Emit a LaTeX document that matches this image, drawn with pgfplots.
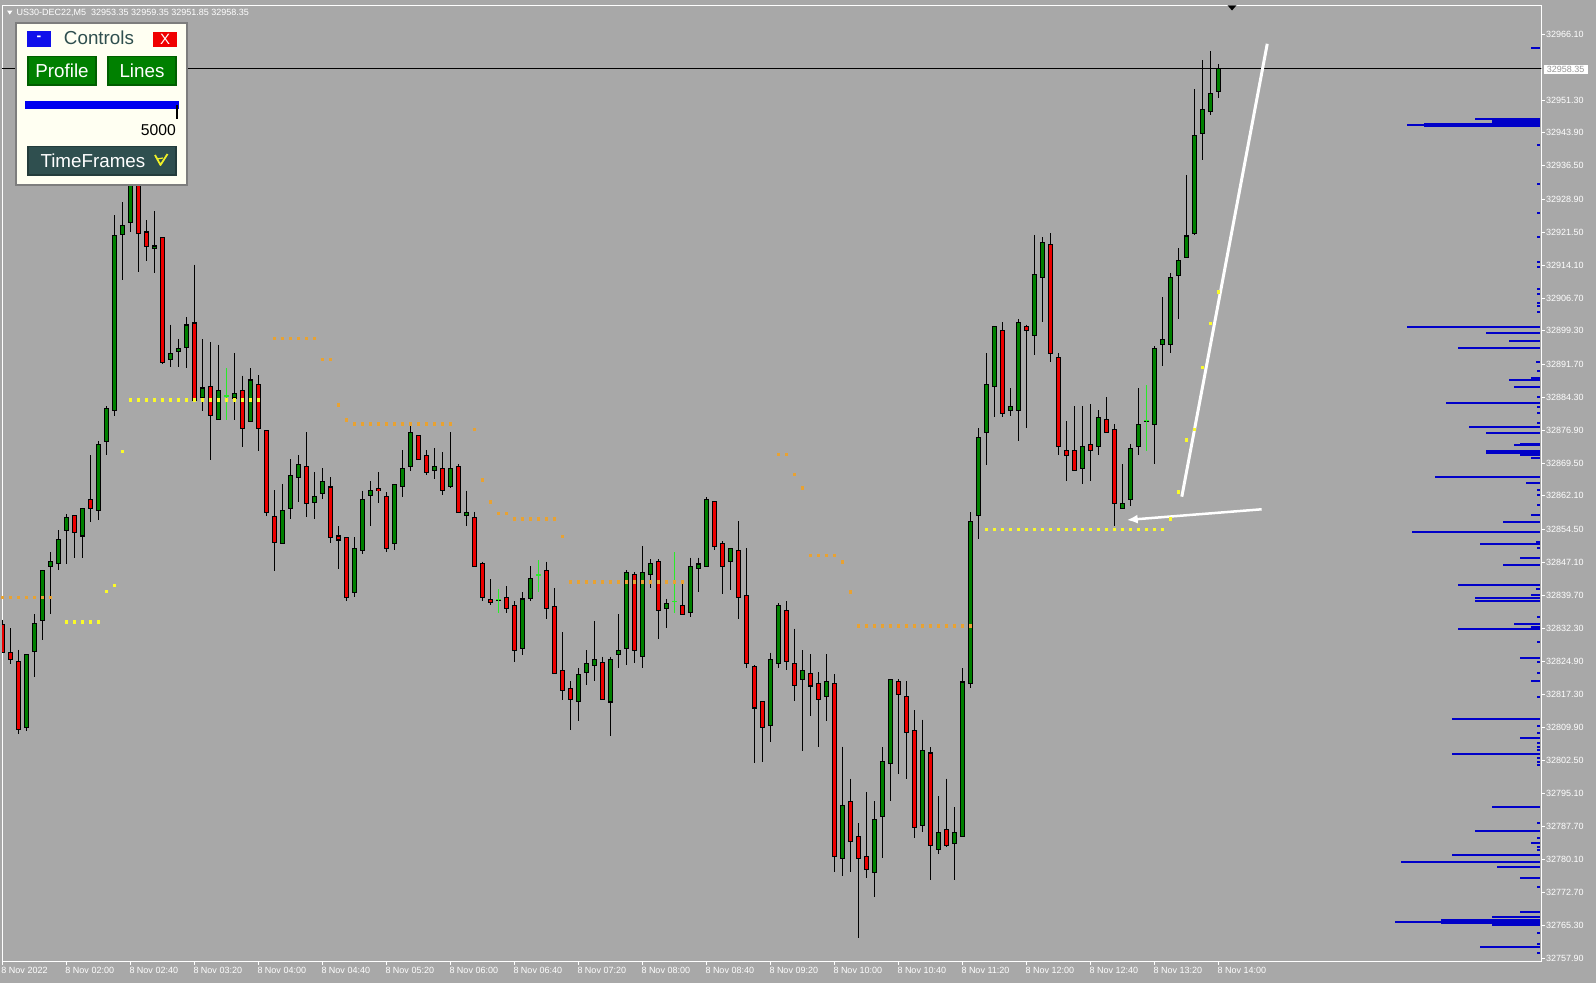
\documentclass[border=0pt]{standalone}
\usepackage{pgfplots}
\pgfplotsset{compat=1.18}
\usepackage{pgfplotstable}
\usepackage{fontspec}
\setmainfont{Liberation Sans}
\usetikzlibrary{arrows.meta}
\definecolor{bgc}{RGB}{168,168,168}
\definecolor{bull}{RGB}{0,128,0}
\definecolor{bear}{RGB}{236,0,0}
\definecolor{doji}{RGB}{40,235,40}
\definecolor{profc}{RGB}{0,0,200}
\definecolor{ylw}{RGB}{250,250,40}
\definecolor{orng}{RGB}{232,162,50}
\definecolor{slate}{RGB}{47,79,79}
\definecolor{ivory}{RGB}{255,255,242}
\definecolor{boxtext}{RGB}{150,150,150}
\definecolor{panelborder}{RGB}{125,125,125}
\definecolor{btnblue}{RGB}{16,16,235}
\definecolor{btnred}{RGB}{240,0,0}
\definecolor{btnborder}{RGB}{0,95,0}
\definecolor{barblue}{RGB}{0,0,240}
\definecolor{tfborder}{RGB}{35,60,60}
\definecolor{chk}{RGB}{240,240,40}
\newcommand\tickfont{\fontsize{9bp}{10bp}\selectfont}
\pgfplotstableread{
k o h l c
0 32833.3 32834.2 32826.6 32827.0
1 32826.8 32832.3 32824.3 32825.2
2 32824.8 32827.4 32808.4 32809.4
3 32810.0 32826.4 32809.2 32826.4
4 32827.2 32835.4 32821.3 32833.4
5 32834.2 32845.4 32829.7 32845.4
6 32846.2 32849.5 32835.4 32847.4
7 32846.9 32854.4 32845.3 32852.3
8 32854.3 32857.9 32846.8 32857.3
9 32857.7 32857.7 32848.2 32853.8
10 32853.2 32859.3 32848.2 32859.3
11 32861.3 32871.2 32856.3 32859.3
12 32858.8 32874.5 32856.7 32873.8
13 32874.4 32882.3 32871.2 32881.8
14 32881.3 32925.3 32880.2 32920.8
15 32921.2 32928.3 32910.8 32923.2
16 32923.6 32937.0 32921.6 32934.0
17 32934.0 32937.0 32912.6 32921.2
18 32921.6 32924.2 32915.0 32918.3
19 32917.8 32926.3 32912.2 32918.4
20 32920.4 32920.4 32891.8 32892.1
21 32892.8 32900.7 32891.2 32894.3
22 32894.8 32897.4 32891.2 32895.4
23 32895.7 32902.3 32890.8 32900.7
24 32901.2 32914.2 32883.7 32883.7
25 32884.2 32897.4 32881.3 32886.4
26 32886.8 32896.7 32870.2 32880.2
27 32879.3 32896.2 32879.3 32885.9
28 32884.7 32890.8 32879.2 32884.7
29 32884.2 32894.3 32879.2 32885.3
30 32885.9 32889.2 32873.2 32877.3
31 32878.9 32890.8 32878.9 32888.3
32 32887.2 32889.3 32872.3 32877.3
33 32876.9 32876.9 32857.6 32858.3
34 32857.7 32863.4 32845.2 32851.8
35 32851.4 32864.8 32851.4 32858.8
36 32859.2 32870.3 32856.8 32866.7
37 32866.3 32871.3 32860.8 32869.2
38 32868.8 32876.4 32857.3 32860.4
39 32860.8 32867.4 32856.8 32862.1
40 32862.8 32868.3 32861.3 32865.4
41 32864.2 32866.3 32851.4 32852.8
42 32853.2 32855.3 32845.7 32852.3
43 32852.8 32852.8 32838.3 32839.2
44 32840.4 32852.8 32839.2 32850.3
45 32849.8 32863.3 32848.9 32861.3
46 32862.2 32865.4 32855.2 32863.3
47 32863.8 32867.4 32860.4 32863.3
48 32862.2 32862.9 32849.4 32850.3
49 32851.4 32864.7 32849.8 32864.7
50 32864.2 32872.4 32861.8 32868.3
51 32868.8 32878.0 32867.8 32876.4
52 32875.7 32875.7 32870.3 32870.3
53 32871.2 32872.4 32866.7 32867.4
54 32867.9 32872.8 32865.8 32868.8
55 32868.3 32871.9 32862.2 32863.3
56 32864.2 32876.4 32863.8 32868.3
57 32868.8 32869.2 32858.4 32858.4
58 32857.7 32863.3 32855.2 32858.4
59 32857.3 32858.5 32846.2 32846.2
60 32846.9 32847.3 32838.3 32839.2
61 32838.8 32843.3 32837.4 32838.3
62 32838.8 32841.0 32835.6 32838.8
63 32839.2 32841.7 32835.8 32836.8
64 32837.4 32838.3 32824.7 32827.3
65 32827.7 32840.4 32826.3 32838.8
66 32839.2 32846.2 32838.3 32843.7
67 32844.3 32847.6 32840.4 32844.3
68 32845.3 32847.3 32834.3 32836.8
69 32837.4 32841.3 32822.3 32822.3
70 32822.8 32831.4 32816.2 32818.3
71 32818.7 32820.3 32809.3 32816.3
72 32815.8 32823.2 32811.3 32821.9
73 32822.3 32827.3 32819.4 32824.4
74 32823.9 32833.9 32820.3 32825.3
75 32824.8 32825.9 32816.3 32816.3
76 32815.8 32825.9 32807.9 32825.3
77 32826.4 32835.4 32823.2 32827.3
78 32827.7 32845.3 32823.9 32844.9
79 32844.4 32844.9 32824.4 32827.3
80 32825.9 32850.7 32823.2 32844.9
81 32844.4 32847.8 32841.3 32846.9
82 32847.3 32847.8 32829.8 32836.3
83 32836.8 32838.9 32832.3 32837.9
84 32838.3 32849.4 32835.6 32838.3
85 32837.4 32842.4 32835.4 32835.4
86 32835.9 32848.2 32834.7 32846.2
87 32845.8 32848.2 32840.4 32846.9
88 32846.2 32861.8 32846.2 32861.3
89 32860.9 32860.9 32849.8 32850.7
90 32851.4 32851.9 32839.9 32846.2
91 32847.3 32850.3 32840.8 32850.3
92 32849.8 32856.4 32834.3 32839.2
93 32839.9 32850.3 32823.2 32824.4
94 32823.9 32823.9 32802.0 32814.5
95 32815.8 32815.8 32802.2 32809.9
96 32810.4 32826.8 32806.7 32825.3
97 32824.4 32837.9 32823.2 32837.4
98 32836.3 32838.3 32822.8 32824.8
99 32824.4 32832.2 32815.8 32819.4
100 32820.8 32827.3 32804.7 32822.8
101 32822.3 32826.4 32812.4 32819.4
102 32819.9 32822.3 32805.4 32816.3
103 32816.9 32826.4 32811.3 32820.3
104 32819.9 32821.9 32777.3 32780.9
105 32780.4 32805.6 32776.4 32792.4
106 32793.3 32798.4 32777.3 32784.3
107 32785.4 32788.3 32762.4 32780.4
108 32780.9 32795.4 32775.9 32777.9
109 32777.3 32793.3 32771.8 32789.4
110 32789.9 32805.4 32780.4 32802.3
111 32801.8 32820.8 32793.3 32820.8
112 32820.3 32820.8 32799.4 32817.4
113 32816.9 32820.3 32798.4 32808.8
114 32809.3 32813.8 32784.9 32787.4
115 32787.9 32811.7 32786.3 32804.8
116 32804.3 32805.4 32775.5 32783.4
117 32782.5 32794.4 32781.3 32786.3
118 32787.0 32798.4 32782.9 32783.4
119 32783.8 32791.9 32775.5 32786.3
120 32785.4 32823.2 32785.4 32820.3
121 32819.9 32858.4 32818.7 32856.4
122 32857.7 32877.3 32852.3 32875.3
123 32876.4 32894.2 32869.1 32887.2
124 32886.8 32900.3 32879.8 32900.3
125 32899.4 32901.2 32879.8 32880.7
126 32881.4 32886.3 32880.2 32882.3
127 32881.4 32901.9 32874.4 32901.2
128 32900.3 32900.7 32877.3 32899.4
129 32898.3 32920.9 32893.8 32912.2
130 32911.3 32920.4 32901.2 32919.2
131 32918.8 32921.3 32892.2 32894.2
132 32893.3 32894.2 32871.2 32873.3
133 32872.4 32878.9 32865.4 32871.2
134 32872.4 32882.3 32867.9 32867.9
135 32868.3 32882.3 32864.7 32873.3
136 32873.7 32882.7 32865.4 32872.4
137 32873.3 32881.4 32871.2 32879.8
138 32879.3 32884.3 32876.4 32876.4
139 32876.9 32878.2 32855.2 32860.4
140 32859.3 32869.2 32859.3 32860.4
141 32861.3 32873.7 32859.7 32872.8
142 32873.3 32886.3 32871.2 32878.2
143 32879.1 32887.0 32872.1 32879.1
144 32878.2 32895.8 32869.2 32895.3
145 32896.2 32906.8 32891.3 32897.4
146 32896.2 32912.2 32894.2 32911.3
147 32911.8 32917.9 32901.9 32915.2
148 32915.9 32934.4 32915.9 32920.8
149 32921.3 32953.7 32920.8 32943.3
150 32943.8 32960.3 32937.7 32949.2
151 32948.7 32962.3 32947.8 32952.8
152 32953.35 32959.35 32951.85 32958.35
}\candles
\pgfplotstableread{
k p
8 32833.8
9 32833.8
10 32833.8
11 32833.8
12 32833.8
13 32840.6
14 32842.0
15 32872.2
16 32883.7
17 32883.7
18 32883.7
19 32883.7
20 32883.7
21 32883.7
22 32883.7
23 32883.7
24 32883.7
25 32883.7
26 32883.7
27 32883.7
28 32883.7
29 32883.7
30 32883.7
31 32883.7
32 32883.7
123 32854.55
124 32854.55
125 32854.55
126 32854.55
127 32854.55
128 32854.55
129 32854.55
130 32854.55
131 32854.55
132 32854.55
133 32854.55
134 32854.55
135 32854.55
136 32854.55
137 32854.55
138 32854.55
139 32854.55
140 32854.55
141 32854.55
142 32854.55
143 32854.55
144 32854.55
145 32854.55
146 32857.0
147 32863.1
148 32874.7
149 32877.1
150 32891.1
151 32901.0
152 32908.1
}\yellowtab
\pgfplotstableread{
k p
0 32839.3
1 32839.3
2 32839.3
3 32839.3
4 32839.3
5 32839.3
6 32839.3
34 32897.6
35 32897.6
36 32897.6
37 32897.6
38 32897.6
39 32897.6
40 32892.9
41 32892.9
42 32882.7
43 32879.3
44 32878.4
45 32878.4
46 32878.4
47 32878.4
48 32878.4
49 32878.4
50 32878.4
51 32878.4
52 32878.4
53 32878.4
54 32878.4
55 32878.4
56 32878.4
59 32877.1
60 32865.7
61 32860.8
62 32858.2
63 32858.2
64 32857.0
65 32857.0
66 32857.0
67 32857.0
68 32857.0
69 32857.0
70 32853.0
71 32842.8
72 32842.8
73 32842.8
74 32842.8
75 32842.8
76 32842.8
77 32842.8
78 32842.8
79 32842.8
80 32842.8
81 32842.8
82 32842.8
83 32842.8
84 32842.8
85 32842.8
97 32871.5
98 32871.5
99 32867.0
100 32864.0
101 32848.7
102 32848.7
103 32848.7
104 32848.7
105 32847.3
106 32840.5
107 32832.9
108 32832.9
109 32832.9
110 32832.9
111 32832.9
112 32832.9
113 32832.9
114 32832.9
115 32832.9
116 32832.9
117 32832.9
118 32832.9
119 32832.9
120 32832.9
121 32832.9
}\orangetab
\pgfplotstableread{
p len
32963.08 1.1
32947.08 8.1
32946.56 6.0
32946.27 6.0
32945.96 14.5
32945.66 16.6
32945.37 14.5
32941.16 0.4
32932.44 0.4
32925.90 0.4
32920.49 0.4
32914.79 0.4
32913.67 0.4
32908.71 0.4
32907.58 0.4
32905.55 0.4
32904.88 0.4
32903.53 0.4
32900.21 16.6
32898.73 6.75
32897.06 3.9
32895.48 10.25
32892.33 0.5
32890.30 0.4
32888.54 1.1
32888.20 3.9
32886.56 3.25
32884.37 0.4
32883.09 11.75
32882.12 0.4
32880.84 0.4
32878.58 0.4
32877.68 8.9
32876.33 6.75
32873.78 2.5
32873.56 3.25
32872.27 6.75
32871.98 2.5
32871.69 6.75
32871.31 2.5
32870.70 1.1
32866.42 13.1
32864.93 1.75
32863.42 0.4
32862.36 0.4
32860.04 0.4
32857.79 1.1
32856.28 4.6
32854.02 16.0
32851.77 0.5
32851.32 7.5
32850.35 0.4
32848.16 2.5
32846.45 4.6
32842.01 10.25
32841.11 0.5
32839.76 1.1
32839.15 8.1
32838.41 8.1
32834.87 0.4
32833.16 3.25
32832.62 1.1
32832.10 10.25
32829.24 0.4
32825.63 2.5
32824.59 0.4
32822.25 0.4
32820.45 1.1
32816.84 0.4
32811.75 11.0
32810.24 0.4
32808.66 0.4
32807.47 2.5
32806.41 0.4
32805.51 0.4
32804.83 0.4
32803.93 11.0
32803.03 0.4
32802.13 0.4
32801.45 0.4
32792.06 6.0
32788.38 0.4
32786.65 8.1
32785.00 0.4
32783.95 1.1
32783.05 0.4
32782.30 0.4
32781.24 11.0
32779.66 17.4
32778.54 5.4
32776.06 2.5
32774.03 0.4
32768.40 2.5
32767.14 6.0
32766.64 12.4
32766.15 18.1
32765.74 12.4
32765.40 6.0
32763.53 0.4
32761.05 0.4
32760.37 7.5
32759.02 0.4
}\profile
\begin{document}
\begin{tikzpicture}
\path[use as bounding box, fill=bgc] (0,0) rectangle (1596bp,-983bp);
\begin{axis}[
  at={(2bp,-961.7bp)}, anchor=south west,
  scale only axis, width=1539.3bp, height=956.4bp,
  xmin=-0.0375, xmax=192.375, ymin=32757.13, ymax=32972.63,
  scaled x ticks=false, scaled y ticks=false,
  axis line style={white, line width=1bp},
  tick align=outside, major tick length=3.5bp,
  tick style={white, line width=0.8bp},
  xtick pos=left, ytick pos=right, yticklabel pos=right,
  xtick={0,8,...,152},
  xticklabels={{8 Nov 2022},{8 Nov 02:00},{8 Nov 02:40},{8 Nov 03:20},{8 Nov 04:00},{8 Nov 04:40},{8 Nov 05:20},{8 Nov 06:00},{8 Nov 06:40},{8 Nov 07:20},{8 Nov 08:00},{8 Nov 08:40},{8 Nov 09:20},{8 Nov 10:00},{8 Nov 10:40},{8 Nov 11:20},{8 Nov 12:00},{8 Nov 12:40},{8 Nov 13:20},{8 Nov 14:00}},
  ytick={32966.10,32951.30,32943.90,32936.50,32928.90,32921.50,32914.10,32906.70,32899.30,32891.70,32884.30,32876.90,32869.50,32862.10,32854.50,32847.10,32839.70,32832.30,32824.90,32817.30,32809.90,32802.50,32795.10,32787.70,32780.10,32772.70,32765.30,32757.90},
  yticklabels={32966.10,32951.30,32943.90,32936.50,32928.90,32921.50,32914.10,32906.70,32899.30,32891.70,32884.30,32876.90,32869.50,32862.10,32854.50,32847.10,32839.70,32832.30,32824.90,32817.30,32809.90,32802.50,32795.10,32787.70,32780.10,32772.70,32765.30,32757.90},
  xticklabel style={anchor=north west, inner sep=0pt, text=white, font=\tickfont, xshift=-1bp, yshift=-2bp},
  yticklabel style={anchor=west, inner sep=0pt, text=white, font=\tickfont, xshift=1bp},
]
% volume profile
\addplot[draw=none, mark=none, error bars/.cd, x dir=minus, x explicit, error mark=none,
  error bar style={draw=profc, line width=2bp}]
  table[x expr=192.21, y=p, x error=len] {\profile};
% indicator dots
\addplot[only marks, mark=square*, mark size=1.3bp, color=orng] table[x=k, y=p] {\orangetab};
\addplot[only marks, mark=square*, mark size=1.3bp, color=ylw] table[x=k, y=p] {\yellowtab};
% wicks
\addplot[draw=none, mark=none, error bars/.cd, y dir=minus, y explicit, error mark=none,
  error bar style={draw=black, line width=1bp}]
  table[x=k, y=h, y error expr={\thisrow{h}-\thisrow{l}}] {\candles};
% body outlines
\addplot[draw=none, mark=none, error bars/.cd, y dir=both, y explicit, error mark=none,
  error bar style={draw=black, line width=5bp}]
  table[x=k, y expr={(\thisrow{o}+\thisrow{c})/2}, y error expr={abs(\thisrow{c}-\thisrow{o})/2+0.12}] {\candles};
% bull fill
\addplot[draw=none, mark=none, error bars/.cd, y dir=both, y explicit, error mark=none,
  error bar style={draw=bull, line width=3bp}]
  table[x=k, y expr={(\thisrow{o}+\thisrow{c})/2}, y error expr={(\thisrow{c}>\thisrow{o})*max(abs(\thisrow{c}-\thisrow{o})/2-0.12,0)}] {\candles};
% bear fill
\addplot[draw=none, mark=none, error bars/.cd, y dir=both, y explicit, error mark=none,
  error bar style={draw=bear, line width=3bp}]
  table[x=k, y expr={(\thisrow{o}+\thisrow{c})/2}, y error expr={(\thisrow{c}<\thisrow{o})*max(abs(\thisrow{c}-\thisrow{o})/2-0.12,0)}] {\candles};
% doji (open = close): lime wick and tick
\addplot[draw=none, mark=none, error bars/.cd, y dir=minus, y explicit, error mark=none,
  error bar style={draw=doji, line width=1bp}]
  table[x=k, y=h, y error expr={(abs(\thisrow{c}-\thisrow{o})<0.01)*(\thisrow{h}-\thisrow{l})}] {\candles};
\addplot[draw=none, mark=none, error bars/.cd, y dir=both, y explicit, error mark=none,
  error bar style={draw=doji, line width=5.2bp}]
  table[x=k, y=o, y error expr={(abs(\thisrow{c}-\thisrow{o})<0.01)*0.14}] {\candles};
% current price line
\addplot[black, line width=0.8bp, mark=none] coordinates {(-1,32958.35) (193,32958.35)};
% user drawn lines
\addplot[white, line width=3bp, mark=none] coordinates {(147.44,32861.91) (158.12,32963.96)};
\addplot[white, line width=2.5bp, mark=none, -{Latex[length=11bp, width=9bp]}] coordinates {(157.42,32859.07) (140.55,32856.66)};
\end{axis}
% current price box
\node[fill=white, inner sep=0pt, minimum width=44bp, minimum height=8.6bp, text=boxtext, font=\tickfont, anchor=west] at (1543.3bp,-69.7bp) {32958.35};
% title
\fill[white] (7bp,-10.5bp) -- (12.5bp,-10.5bp) -- (9.75bp,-14.5bp) -- cycle;
\node[anchor=west, inner sep=0pt, text=white, font=\tickfont] at (16.5bp,-13.3bp) {US30-DEC22,M5\ \ 32953.35 32959.35 32951.85 32958.35};
% shift marker
\fill[black] (1227.5bp,-5.3bp) -- (1236.5bp,-5.3bp) -- (1232bp,-10.5bp) -- cycle;
% control panel
\draw[fill=ivory, draw=panelborder, line width=2bp] (16bp,-23.3bp) rectangle (187.3bp,-184.7bp);
\fill[btnblue] (27.3bp,-31bp) rectangle (50.7bp,-46.7bp);
\node[text=white, font=\fontsize{14bp}{14bp}\selectfont\bfseries] at (39bp,-38.5bp) {-};
\node[text=slate, font=\fontsize{18.8bp}{20bp}\selectfont] at (99bp,-37.5bp) {Controls};
\fill[btnred] (153.3bp,-31.7bp) rectangle (176.7bp,-46.7bp);
\node[text=white, font=\fontsize{15bp}{15bp}\selectfont] at (165bp,-39.2bp) {X};
\draw[fill=bull, draw=btnborder, line width=1.5bp] (28bp,-56.7bp) rectangle (96bp,-85bp);
\node[text=white, font=\fontsize{18.8bp}{20bp}\selectfont] at (62bp,-71bp) {Profile};
\draw[fill=bull, draw=btnborder, line width=1.5bp] (108bp,-56.7bp) rectangle (176bp,-85bp);
\node[text=white, font=\fontsize{18.8bp}{20bp}\selectfont] at (142bp,-71bp) {Lines};
\fill[barblue] (25bp,-101bp) rectangle (179bp,-109bp);
\fill[black] (176bp,-105bp) rectangle (178.3bp,-119bp);
\node[anchor=east, text=black, font=\fontsize{15.7bp}{16bp}\selectfont] at (179.3bp,-130bp) {5000};
\draw[fill=slate, draw=tfborder, line width=1.5bp] (28bp,-146.7bp) rectangle (176bp,-175bp);
\node[anchor=west, text=white, font=\fontsize{18.8bp}{20bp}\selectfont] at (37bp,-161bp) {TimeFrames};
\draw[chk, line width=1.8bp, line join=round] (155bp,-155bp) -- (160.5bp,-165bp) -- (167.5bp,-154bp);
\draw[chk, line width=1.2bp] (157bp,-159bp) -- (163bp,-158bp);
\end{tikzpicture}
\end{document}
